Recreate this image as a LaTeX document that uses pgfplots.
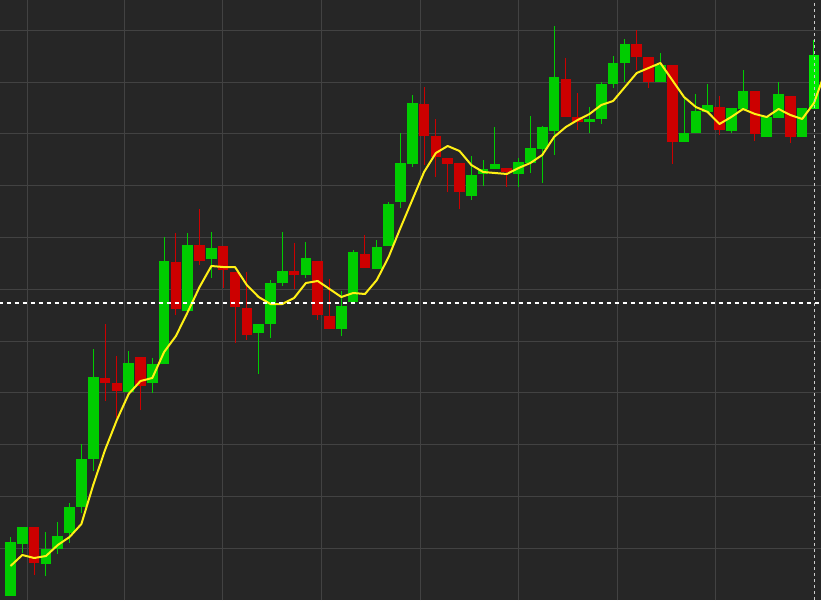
\documentclass[border=0pt]{standalone}
\usepackage{pgfplots}
\usepackage{pgfplotstable}
\pgfplotsset{compat=1.18}

\definecolor{bgc}{RGB}{38,38,38}
\definecolor{gridc}{RGB}{66,66,66}
\definecolor{cgreen}{RGB}{0,204,0}
\definecolor{cred}{RGB}{204,0,0}
\definecolor{clime}{RGB}{0,235,0}
\definecolor{cma}{RGB}{255,240,20}

% x o h l c  (rising candles)
\pgfplotstableread{
x o h l c
1 4 63 4 58
2 56 73 47 73
4 36 68 24 51
5 51 78 46 64
6 67 97 57 93
7 93 156 87 141
8 141 251 129 223
11 208 249 208 237
13 217 242 207 236
14 236 363 236 339
16 289 367 289 355
18 341 368 322 352
22 267 276 226 276
23 276 320 262 317
24 317 368 314 329
26 325 358 322 342
29 271 309 264 294
30 298 350 298 348
32 331 360 331 353
33 354 398 354 396
34 398 467 392 437
35 436 505 433 497
40 404 444 400 425
41 426 440 414 431
42 431 473 431 436
44 426 442 413 438
45 437 484 427 452
46 451 474 417 473
47 469 574 445 523
50 478 493 467 481
51 481 518 476 516
52 516 544 512 537
53 537 561 518 556
56 518 547 518 535
58 458 503 458 467
59 467 506 467 489
60 488 516 488 495
62 469 492 467 492
63 491 530 491 509
65 463 483 463 483
66 482 518 482 506
68 463 492 463 492
}\up

% falling candles
\pgfplotstableread{
x o h l c
3 73 73 25 37
9 222 276 199 217
10 217 244 182 209
12 243 243 190 214
15 338 367 285 291
17 355 391 335 339
19 354 354 312 330
20 328 328 257 293
21 292 328 260 265
25 329 357 311 325
27 339 339 280 285
28 284 321 271 271
31 346 365 332 332
36 496 513 435 464
37 464 481 423 443
38 442 442 408 436
39 437 437 391 408
43 432 432 413 428
48 521 542 483 483
49 483 507 470 478
54 556 570 530 543
55 543 543 512 518
57 535 535 436 458
61 493 504 465 470
64 509 509 459 466
67 504 504 457 463
}\down

% last (live) candles
\pgfplotstableread{
x o h l c
69 491 560 491 545
70 545 660 545 660
}\live

% moving average
\pgfplotstableread{
x y
1 34
2 45
3 42
4 44
5 55
6 63
7 76
8 115
9 150
10 180
11 206
12 219
13 222
14 248
15 264
16 288
17 313
18 334
19 333
20 333
21 315
22 303
23 296
24 296
25 302
26 317
27 319
28 311
29 303
30 307
31 306
32 320
33 343
34 372
35 400
36 428
37 447
38 454
39 449
40 435
41 428
42 427
43 426
44 432
45 437
46 445
47 463
48 473
49 480
50 486
51 495
52 499
53 513
54 527
55 532
56 537
57 520
58 503
59 493
60 488
61 476
62 483
63 491
64 486
65 483
66 491
67 485
68 481
69 497
70 530
}\ma

\pgfplotsset{
  wick/.style={draw=none, mark=none, forget plot,
    error bars/.cd, y dir=both, y explicit, error mark=none,
    error bar style={draw=#1, solid, line width=0.5pt}},
  body/.style={draw=none, mark=none, forget plot,
    error bars/.cd, y dir=both, y explicit, error mark=none,
    error bar style={draw=#1, solid, line width=5.3pt, line cap=butt}},
}

\begin{document}
\begin{tikzpicture}
\begin{axis}[
    scale only axis,
    width=410.5pt, height=300pt,
    xmin=0.1114, xmax=69.594,
    ymin=0, ymax=600,
    axis background/.style={fill=bgc},
    axis line style={draw=none},
    xtick={2.4387,10.648,18.942,27.320,35.699,43.993,52.371,60.665},
    ytick={51.5,103.5,155.5,207.5,258.5,310.5,362.5,414.5,466.5,517.5,569.5},
    xticklabels={}, yticklabels={},
    major tick length=0pt,
    grid=major,
    major grid style={draw=gridc, line width=0.55pt},
]
% wicks
\addplot[wick=cgreen] table[x=x, y expr=(\thisrow{h}+\thisrow{l})/2, y error expr=(\thisrow{h}-\thisrow{l})/2] {\up};
\addplot[wick=cred] table[x=x, y expr=(\thisrow{h}+\thisrow{l})/2, y error expr=(\thisrow{h}-\thisrow{l})/2] {\down};
\addplot[wick=clime] table[x=x, y expr=(\thisrow{h}+\thisrow{l})/2, y error expr=(\thisrow{h}-\thisrow{l})/2] {\live};
% bodies
\addplot[body=cgreen] table[x=x, y expr=(\thisrow{o}+\thisrow{c})/2, y error expr=abs(\thisrow{c}-\thisrow{o})/2] {\up};
\addplot[body=cred] table[x=x, y expr=(\thisrow{o}+\thisrow{c})/2, y error expr=abs(\thisrow{c}-\thisrow{o})/2] {\down};
\addplot[body=clime] table[x=x, y expr=(\thisrow{o}+\thisrow{c})/2, y error expr=abs(\thisrow{c}-\thisrow{o})/2] {\live};
% moving average
\addplot[cma, line width=1pt, line join=round, mark=none] table[x=x, y=y] {\ma};
% crosshair
\addplot[white, line width=0.6pt, dash pattern=on 2pt off 2pt, mark=none] coordinates {(0,297) (70,297)};
\addplot[white!80!black, line width=0.6pt, dash pattern=on 1.5pt off 1.5pt, mark=none] coordinates {(69.02,0) (69.02,600)};
\end{axis}
\pgfresetboundingbox
\path[use as bounding box] (current axis.south west) rectangle (current axis.north east);
\end{tikzpicture}
\end{document}
